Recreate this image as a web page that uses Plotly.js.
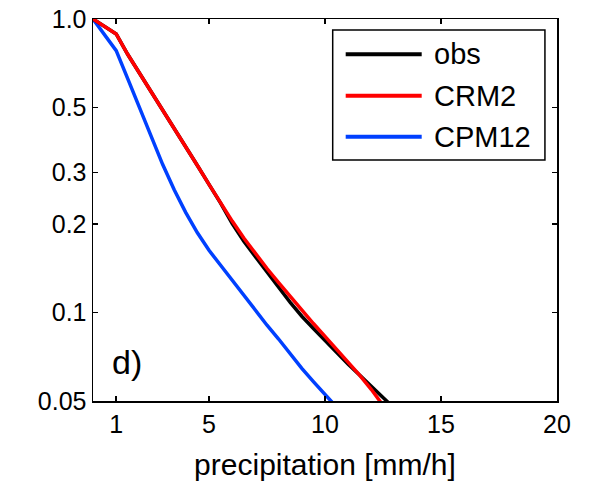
<!DOCTYPE html>
<html>
<head>
<meta charset="utf-8">
<script src="https://cdn.plot.ly/plotly-3.0.1.min.js"></script>
<style>html,body{margin:0;padding:0;background:#fff;}#chart{width:591px;height:486px;}</style>
</head>
<body>
<div id="chart"></div>
<script>
// precipitation bins [mm/h]
const precip = [0, 0.5, 1, 1.5, 2, 2.5, 3, 3.5, 4, 4.5, 5, 5.5, 6, 6.5, 7, 7.5, 8, 8.5, 9, 9.5, 10, 10.5, 11, 11.5, 12, 12.5, 13];
// exceedance fractions
const obs   = [1.0, 0.944, 0.889, 0.757, 0.656, 0.569, 0.493, 0.4256, 0.3673, 0.317, 0.2735, 0.236, 0.201, 0.175, 0.155, 0.137, 0.122, 0.1084, 0.0972, 0.0883, 0.0802, 0.0729, 0.0667, 0.0612, 0.0561, 0.0514, 0.0471];
const crm2  = [1.0, 0.944, 0.889, 0.757, 0.656, 0.569, 0.493, 0.4256, 0.3673, 0.317, 0.2735, 0.236, 0.205, 0.1795, 0.159, 0.1413, 0.1265, 0.1135, 0.1016, 0.0918, 0.083, 0.075, 0.0678, 0.0611, 0.0547, 0.0484, 0.0427];
const cpm12 = [1.0, 0.883, 0.780, 0.625, 0.501, 0.398, 0.320, 0.262, 0.219, 0.187, 0.163, 0.145, 0.129, 0.114, 0.101, 0.0906, 0.0813, 0.0724, 0.0646, 0.0582, 0.0525, 0.0473, 0.0427, 0.039, 0.036, 0.033, 0.031];
const seriesNames = ['obs', 'CRM2', 'CPM12'];
const seriesColors = ['#000000', '#ff0000', '#0040ff'];
const xTicks = [1, 5, 10, 15, 20];
const yTicks = [0.05, 0.1, 0.2, 0.3, 0.5, 1.0];
const yTickText = ['0.05', '0.1', '0.2', '0.3', '0.5', '1.0'];
const panelLabel = 'd)';
const xLabel = 'precipitation [mm/h]';

const FONT = 'Liberation Sans, Arial, Helvetica, sans-serif';
const seriesData = [obs, crm2, cpm12];
const drawOrder = [2, 0, 1];
const traces = drawOrder.map(i => ({
  x: precip, y: seriesData[i], type: 'scatter', mode: 'lines',
  name: seriesNames[i], line: {color: seriesColors[i], width: 3.5}, showlegend: false
}));

// custom legend (MATLAB style)
const legX0 = 0.5166, legX1 = 0.974, legY0 = 0.631, legY1 = 0.9712;
const rowY = [0.9076, 0.7992, 0.6919];
const shapes = [{type: 'rect', xref: 'paper', yref: 'paper', x0: legX0, x1: legX1, y0: legY0, y1: legY1,
  line: {color: '#000', width: 1.5}, fillcolor: '#fff', layer: 'above'}];
const annotations = [];
seriesNames.forEach((n, i) => {
  shapes.push({type: 'line', xref: 'paper', yref: 'paper', x0: 0.5446, x1: 0.7084, y0: rowY[i], y1: rowY[i],
    line: {color: seriesColors[i], width: 4}, layer: 'above'});
  annotations.push({xref: 'paper', yref: 'paper', x: 0.7306, y: rowY[i], text: n, showarrow: false,
    xanchor: 'left', yanchor: 'middle', font: {family: FONT, size: 29, color: '#000'}});
});
annotations.push({xref: 'paper', yref: 'paper', x: 0.0733, y: 0.102, text: panelLabel, showarrow: false,
  xanchor: 'center', yanchor: 'middle', font: {family: FONT, size: 34, color: '#000'}});

const layout = {
  width: 591, height: 486,
  margin: {l: 93, r: 34, t: 19, b: 85},
  paper_bgcolor: '#fff', plot_bgcolor: '#fff',
  font: {family: FONT, size: 25, color: '#000'},
  xaxis: {
    range: [0, 20], tickvals: xTicks, ticks: 'inside', ticklen: 5, tickwidth: 1.5, tickcolor: '#000',
    showline: true, linecolor: '#000', linewidth: 1.5, mirror: 'ticks', showgrid: false, zeroline: false,
    tickfont: {family: FONT, size: 25, color: '#000'},
    title: {text: xLabel, font: {family: FONT, size: 30, color: '#000'}, standoff: 17}
  },
  yaxis: {
    type: 'log', range: [Math.log10(0.05), 0], tickvals: yTicks, ticktext: yTickText,
    ticks: 'inside', ticklen: 5, tickwidth: 1.5, tickcolor: '#000',
    showline: true, linecolor: '#000', linewidth: 1.5, mirror: 'ticks', showgrid: false, zeroline: false,
    tickfont: {family: FONT, size: 25, color: '#000'}
  },
  shapes: shapes, annotations: annotations, showlegend: false
};
Plotly.newPlot('chart', traces, layout, {displayModeBar: false, staticPlot: true});
</script>
</body>
</html>
